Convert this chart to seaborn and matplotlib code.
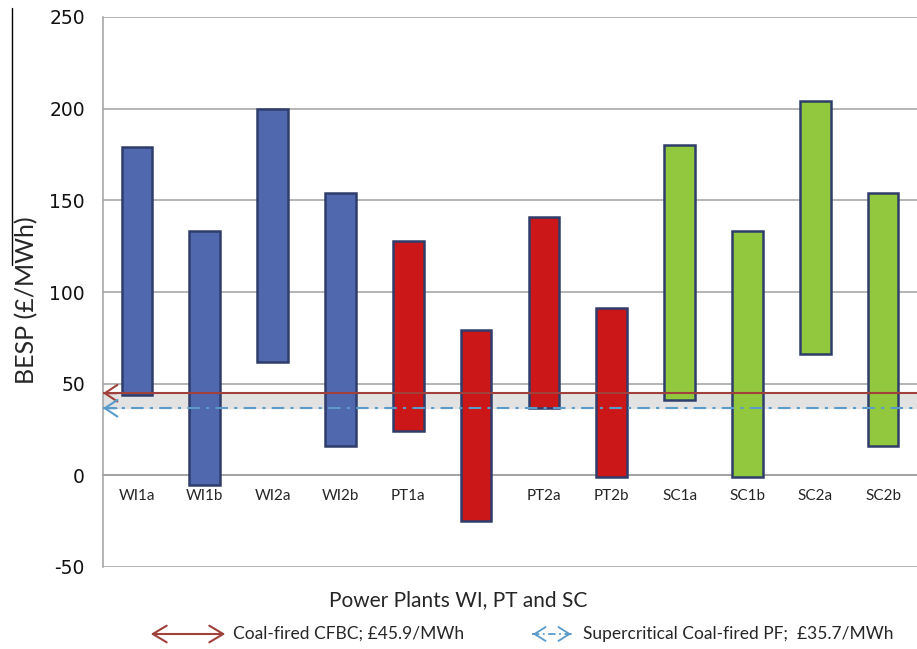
import matplotlib
matplotlib.use("Agg")
import matplotlib.pyplot as plt
from matplotlib.lines import Line2D
from matplotlib.patches import FancyArrowPatch
import numpy as np
import pandas as pd
import seaborn as sns

plants = ["WI1a", "WI1b", "WI2a", "WI2b", "PT1a", "PT1b",
          "PT2a", "PT2b", "SC1a", "SC1b", "SC2a", "SC2b"]
tick_labels = ["WI1a", "WI1b", "WI2a", "WI2b", "PT1a", "",
               "PT2a", "PT2b", "SC1a", "SC1b", "SC2a", "SC2b"]
besp_low = [44, -5, 62, 16, 24, -25, 37, -1, 41, -1, 66, 16]
besp_high = [179, 133, 200, 154, 128, 79, 141, 91, 180, 133, 204, 154]
groups = ["WI"] * 4 + ["PT"] * 4 + ["SC"] * 4
group_colors = {"WI": "#5068AE", "PT": "#CC1719", "SC": "#92C83E"}
cfbc = 44.8
pf = 36.6

df = pd.DataFrame({"plant": plants, "low": besp_low, "high": besp_high})
df["span"] = df["high"] - df["low"]

sns.set_style("white")
plt.rcParams["font.family"] = ["Lato", "DejaVu Sans"]
plt.rcParams["axes.unicode_minus"] = False

fig = plt.figure(figsize=(9.17, 6.49), dpi=100)
ax = fig.add_axes([103 / 917, 82 / 649, 814 / 917, 550 / 649])

sns.barplot(data=df, x="plant", y="span", bottom=df["low"].values,
            color=group_colors["WI"], saturation=1, width=0.45,
            errorbar=None, edgecolor="#2E3D6B", linewidth=1.8,
            ax=ax, zorder=3)
for patch, g in zip(ax.containers[0], groups):
    patch.set_facecolor(group_colors[g])

# shaded gap between the two reference prices
ax.axhspan(pf, cfbc, color="#E2E2E2", zorder=0.5)

ax.set_ylim(-50, 250)
ax.set_xlim(-0.5, len(plants) - 0.5)
ax.set_yticks(np.arange(-50, 251, 50))
ax.yaxis.grid(True, color="#A0A0A0", linewidth=1.1, zorder=0)
ax.set_axisbelow(True)

for s in ["top", "right"]:
    ax.spines[s].set_visible(False)
ax.spines["left"].set_color("#A0A0A0")
ax.spines["left"].set_linewidth(1.1)
ax.spines["bottom"].set_position(("data", 0))
ax.spines["bottom"].set_color("#A0A0A0")
ax.spines["bottom"].set_linewidth(1.1)

ax.set_xticks(range(len(plants)))
ax.set_xticklabels(tick_labels, fontsize=11)
ax.set_xticks(np.arange(0.5, len(plants) - 0.5, 1), minor=True)
ax.tick_params(axis="x", which="major", length=0, pad=10)
ax.tick_params(axis="x", which="minor", length=5, color="#A0A0A0", width=1.1)
ax.tick_params(axis="y", length=6, color="#A0A0A0", width=1.1, pad=7)
for t in ax.get_yticklabels():
    t.set_fontfamily("DejaVu Sans")
    t.set_fontsize(13.5)
    t.set_color("#111111")

ax.set_xlabel("")
ax.set_ylabel("BESP (£/MWh)", fontsize=18)
ax.yaxis.set_label_coords(-0.08, 0.485)
fig.text(0.5, 1 - 600 / 649, "Power Plants WI, PT and SC", ha="center",
         va="center", fontsize=15)

# reference price lines, arrowhead at the axis
red, blue = "#A0413C", "#5A9BC9"
dashdot = (0, (6, 3, 1.5, 3))
head = "->, head_length=0.45, head_width=0.3"
ax.axhline(cfbc, color=red, lw=1.5, zorder=4)
ax.axhline(pf, color=blue, lw=1.5, linestyle=dashdot, zorder=4)
for yv, c in [(cfbc, red), (pf, blue)]:
    ax.annotate("", xy=(-0.5, yv), xytext=(-0.3, yv),
                arrowprops=dict(arrowstyle=head, color=c, lw=1.5,
                                mutation_scale=20, shrinkA=0, shrinkB=0),
                zorder=4)

# legend drawn underneath
ly = 1 - 634 / 649
fig.add_artist(FancyArrowPatch(
    (148 / 917, ly), (228 / 917, ly), transform=fig.transFigure,
    arrowstyle="<->, head_length=0.5, head_width=0.3", mutation_scale=20,
    color=red, lw=1.5))
fig.text(233 / 917, ly, "Coal-fired CFBC; £45.9/MWh", va="center", fontsize=12.5)

fig.add_artist(Line2D([532 / 917, 572 / 917], [ly, ly], color=blue, lw=1.3,
                      linestyle=(0, (4, 2, 1, 2))))
for x0, x1 in [(538, 530), (566, 574)]:
    fig.add_artist(FancyArrowPatch(
        (x0 / 917, ly), (x1 / 917, ly), transform=fig.transFigure,
        arrowstyle="->, head_length=0.4, head_width=0.25", mutation_scale=20,
        color=blue, lw=1.3))
fig.text(583 / 917, ly, "Supercritical Coal-fired PF;  £35.7/MWh", va="center",
         fontsize=12.5)

fig.add_artist(Line2D([12 / 917, 12 / 917], [1 - 8 / 649, 1 - 265 / 649],
                      color="black", lw=1))

fig.savefig("out.png", dpi=100)
